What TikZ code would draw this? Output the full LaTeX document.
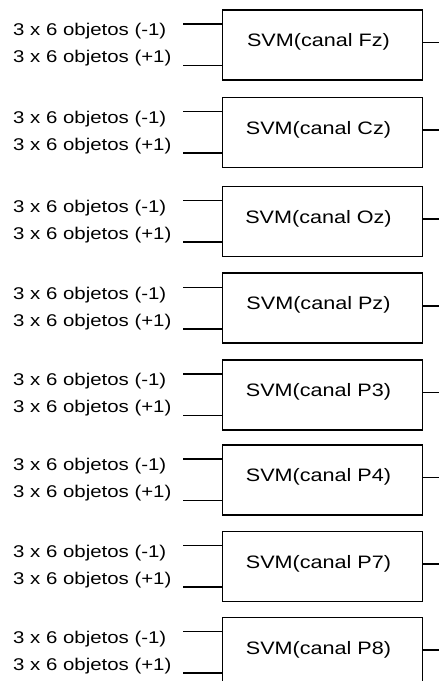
\documentclass[tikz,border=0pt]{standalone}
\usepackage{graphicx}
\usepackage{fontspec}
\setmainfont{Liberation Sans}
\begin{document}
\begin{tikzpicture}[x=1pt,y=-1pt,
  svmbox/.style={draw=black, line width=1.5pt, minimum width=200pt, minimum height=70pt, inner sep=0pt, anchor=north west},
  svmlabel/.style={font=\fontsize{18}{21}\selectfont, inner sep=0pt},
  inlabel/.style={font=\fontsize{17}{20}\selectfont, inner sep=0pt, anchor=west},
  wire/.style={line width=1.5pt, black}]
\useasboundingbox (0,0) rectangle (439,681);
\clip (0,0) rectangle (439,681);
\foreach \t/\c [count=\i] in {9/Fz, 96.7/Cz, 185.7/Oz, 272.3/Pz, 359/P3, 444/P4, 530.7/P7, 616.7/P8} {
  \node[svmbox] (b\i) at (221.5,\t) {};
  \node[svmlabel] (s\i) at (318.5,\t+33) {\scalebox{1.2}[1]{SVM(canal \c)}};
  \node[inlabel] (m\i) at (13,\t+22.5) {\scalebox{1.2}[1]{3 x 6 objetos (-1)}};
  \node[inlabel] (p\i) at (13,\t+49.5) {\scalebox{1.2}[1]{3 x 6 objetos (+1)}};
  \coordinate (ia\i) at (183,\t+15);
  \coordinate (ib\i) at (183,\t+56.5);
  \coordinate (o\i) at (440,\t+33.5);
  \draw[wire] (ia\i) -- (ia\i -| b\i.west);
  \draw[wire] (ib\i) -- (ib\i -| b\i.west);
  \draw[wire] (b\i.east |- o\i) -- (o\i);
}
\end{tikzpicture}
\end{document}
